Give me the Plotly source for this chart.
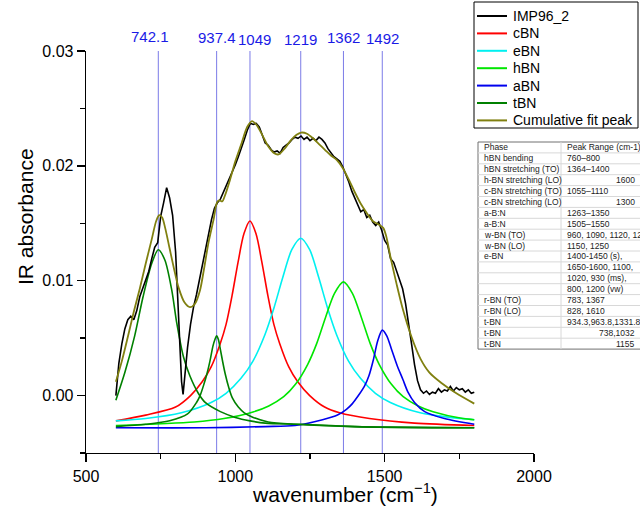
import plotly.graph_objects as go

# ---------------- data ----------------
imp_x = [600, 610, 620, 630, 640, 650, 660, 670, 680, 690, 700, 710, 720, 730, 740, 750, 760, 770, 780, 790,
         800, 810, 820, 825, 830, 840, 850, 860, 870, 880, 890, 900, 910, 920, 930, 940, 950, 960, 970, 980,
         990, 1000, 1010, 1020, 1030, 1040, 1050, 1060, 1070, 1080, 1090, 1100, 1110, 1120, 1130, 1140, 1150,
         1160, 1170, 1180, 1190, 1200, 1210, 1220, 1230, 1240, 1250, 1260, 1270, 1280, 1290, 1300, 1310, 1320,
         1330, 1340, 1350, 1360, 1370, 1380, 1390, 1400, 1410, 1420, 1430, 1440, 1450, 1460, 1470, 1480, 1490,
         1500, 1510, 1520, 1530, 1540, 1550, 1560, 1570, 1580, 1590, 1600, 1610, 1620, 1630, 1640, 1650, 1660,
         1670, 1680, 1690, 1700, 1710, 1720, 1730, 1740, 1750, 1760, 1770, 1780, 1790, 1800]
imp_y = [0.0000, 0.0028, 0.0045, 0.0058, 0.0066, 0.0069, 0.0066, 0.0074, 0.0086, 0.0094, 0.0100, 0.0108,
         0.0119, 0.0129, 0.0133, 0.0156, 0.0168, 0.0181, 0.0172, 0.0157, 0.0125, 0.0072, 0.0012, 0.0001,
         0.0016, 0.0042, 0.0062, 0.0077, 0.0088, 0.0101, 0.0116, 0.0129, 0.0142, 0.0153, 0.0163, 0.0168,
         0.0171, 0.0177, 0.0182, 0.0189, 0.0195, 0.0201, 0.0208, 0.0215, 0.0223, 0.0231, 0.0237, 0.0236,
         0.0237, 0.0234, 0.0226, 0.0220, 0.0218, 0.0214, 0.0212, 0.0213, 0.0211, 0.0216, 0.0218, 0.0220,
         0.0223, 0.0225, 0.0224, 0.0226, 0.0223, 0.0225, 0.0222, 0.0224, 0.0222, 0.0225, 0.0223, 0.0220,
         0.0215, 0.0211, 0.0208, 0.0206, 0.0204, 0.0199, 0.0193, 0.0186, 0.0178, 0.0172, 0.0167, 0.0160,
         0.0162, 0.0155, 0.0157, 0.0151, 0.0148, 0.0151, 0.0144, 0.0135, 0.0131, 0.0119, 0.0116, 0.0108,
         0.0101, 0.0093, 0.0080, 0.0064, 0.0045, 0.0027, 0.0013, 0.0005, 0.0002, 0.0004, 0.0001, 0.0003,
         0.0002, 0.0006, 0.0003, 0.0005, 0.0004, 0.0008, 0.0004, 0.0007, 0.0005, 0.0006, 0.0003, 0.0005,
         0.0002, 0.0003]

cbn_x = [600, 700, 800, 850, 889, 919, 949, 969, 989, 1009, 1029, 1049, 1069, 1089, 1109, 1129, 1149,
         1179, 1209, 1249, 1299, 1349, 1449, 1600, 1800]
cbn_y = [-0.0022, -0.0017, -0.0010, 0.0000, 0.0012, 0.0025, 0.0045, 0.0062, 0.0087, 0.0116, 0.0141,
         0.0152, 0.0141, 0.0116, 0.0087, 0.0062, 0.0045, 0.0025, 0.0012, 0.0000, -0.0010, -0.0015,
         -0.0020, -0.0024, -0.0026]

ebn_x = [600, 700, 819, 919, 969, 1019, 1059, 1099, 1129, 1159, 1189, 1219, 1249, 1279, 1309, 1339,
         1379, 1419, 1469, 1519, 1619, 1719, 1800]
ebn_y = [-0.0022, -0.0020, -0.0015, -0.0006, 0.0002, 0.0015, 0.0030, 0.0053, 0.0076, 0.0103, 0.0127,
         0.0137, 0.0127, 0.0103, 0.0076, 0.0053, 0.0030, 0.0015, 0.0002, -0.0006, -0.0015, -0.0019,
         -0.0021]

hbn_x = [600, 862, 962, 1062, 1112, 1162, 1202, 1242, 1272, 1302, 1332, 1362, 1392, 1422, 1452, 1482,
         1522, 1562, 1612, 1662, 1762, 1800]
hbn_y = [-0.0026, -0.0023, -0.0020, -0.0014, -0.0009, -0.0001, 0.0010, 0.0027, 0.0045, 0.0068, 0.0089,
         0.0099, 0.0089, 0.0068, 0.0045, 0.0027, 0.0010, -0.0001, -0.0009, -0.0014, -0.0020, -0.0021]

abn_x = [600, 900, 1100, 1200, 1292, 1342, 1372, 1392, 1412, 1432, 1447, 1462, 1477, 1492, 1507, 1522,
         1542, 1561, 1578, 1600, 1634, 1700, 1800]
abn_y = [-0.0028, -0.0028, -0.0027, -0.0026, -0.0021, -0.0017, -0.0012, -0.0007, 0.0000, 0.0008, 0.0017,
         0.0031, 0.0048, 0.0057, 0.0052, 0.0041, 0.0026, 0.0014, 0.0003, -0.0006, -0.0014, -0.0020, -0.0025]

tbn1_x = [600, 630, 663, 691, 720, 742, 764, 787, 804, 826, 848, 876, 899, 950, 1000, 1049, 1100, 1219,
          1400, 1800]
tbn1_y = [-0.0004, 0.0020, 0.0052, 0.0086, 0.0115, 0.0127, 0.0118, 0.0092, 0.0063, 0.0034, 0.0017, 0.0002,
          -0.0006, -0.0014, -0.0019, -0.0022, -0.0024, -0.0025, -0.0027, -0.0028]

tbn2_x = [600, 700, 780, 840, 870, 882, 895, 905, 915, 925, 932, 937.4, 943, 950, 958, 966, 978, 990,
          1010, 1030, 1060, 1110, 1200, 1400, 1800]
tbn2_y = [-0.0027, -0.0025, -0.0022, -0.0016, -0.0006, 0.0000, 0.0010, 0.0019, 0.0030, 0.0043, 0.0049,
          0.0052, 0.0049, 0.0040, 0.0029, 0.0019, 0.0007, -0.0002, -0.0010, -0.0015, -0.0019, -0.0023,
          -0.0025, -0.0027, -0.0028]

cum_x = [600, 620, 640, 660, 680, 700, 720, 735, 745, 755, 765, 780, 795, 810, 830, 848, 865, 882, 895,
         910, 927, 940, 948, 956, 965, 980, 1000, 1020, 1040, 1056, 1070, 1090, 1110, 1130, 1145, 1165,
         1185, 1205, 1220, 1240, 1260, 1280, 1300, 1320, 1340, 1360, 1380, 1400, 1420, 1440, 1460, 1480,
         1495, 1505, 1520, 1540, 1560, 1590, 1620, 1650, 1690, 1740, 1800]
cum_y = [0.0012, 0.0030, 0.0051, 0.0073, 0.0093, 0.0115, 0.0136, 0.0152, 0.0157, 0.0155, 0.0146, 0.0128,
         0.0110, 0.0094, 0.0081, 0.0077, 0.0080, 0.0092, 0.0110, 0.0133, 0.0153, 0.0169, 0.0170, 0.0169,
         0.0174, 0.0186, 0.0204, 0.0219, 0.0234, 0.0239, 0.0236, 0.0227, 0.0217, 0.0211, 0.0210, 0.0215,
         0.0222, 0.0227, 0.0229, 0.0228, 0.0224, 0.0219, 0.0214, 0.0209, 0.0205, 0.0198, 0.0188, 0.0177,
         0.0167, 0.0159, 0.0152, 0.0149, 0.0146, 0.0139, 0.0120, 0.0097, 0.0076, 0.0051, 0.0032, 0.0020,
         0.0011, 0.0002, -0.0007]

peak_pos = [742.1, 937.4, 1049, 1219, 1362, 1492]
peak_labels = ["742.1", "937.4", "1049", "1219", "1362", "1492"]

legend_names = ["IMP96_2", "cBN", "eBN", "hBN", "aBN", "tBN", "Cumulative fit peak"]
legend_colors = ["#000000", "#ff0000", "#00f0f0", "#00e600", "#0000ee", "#008000", "#808010"]

table_phase = ["Phase", "hBN bending", "hBN stretching (TO)", "h-BN stretching (LO)",
               "c-BN stretching (TO)", "c-BN stretching (LO)", "a-B:N", "a-B:N", "w-BN (TO)",
               "w-BN (LO)", "e-BN", "", "", "", "r-BN (TO)", "r-BN (LO)", "t-BN", "t-BN", "t-BN"]
table_range = ["Peak Range (cm-1)", "760–800", "1364–1400", "1600", "1055–1110", "1300",
               "1263–1350", "1505–1550", "960, 1090, 1120, 1250", "1150, 1250", "1400-1450 (s),",
               "1650-1600, 1100,", "1020, 930 (ms),", "800, 1200 (vw)", "783, 1367", "828, 1610",
               "934.3,963.8,1331.8", "738,1032", "1155"]
table_right = [False, False, False, True, False, True, False, False, False, False, False,
               False, False, False, False, False, False, True, True]

# ---------------- layout helpers ----------------
W, H = 640, 519
PL, PR, PT, PB = 86, 534, 51, 453
FONT = "Liberation Sans, Arial, sans-serif"


def fx(px):
    return (px - PL) / (PR - PL)


def fy(py):
    return (PB - py) / (PB - PT)


fig = go.Figure()

lw = 1.6
sp = dict(shape="spline", smoothing=0.8)
series = [
    (cbn_x, cbn_y, legend_colors[1], lw, True),
    (ebn_x, ebn_y, legend_colors[2], lw, True),
    (hbn_x, hbn_y, legend_colors[3], lw, True),
    (abn_x, abn_y, legend_colors[4], lw, True),
    (tbn1_x, tbn1_y, legend_colors[5], lw, True),
    (tbn2_x, tbn2_y, legend_colors[5], lw, True),
    (imp_x, imp_y, legend_colors[0], 1.6, False),
    (cum_x, cum_y, legend_colors[6], 1.8, True),
]
names = ["cBN", "eBN", "hBN", "aBN", "tBN", "tBN", "IMP96_2", "Cumulative fit peak"]
for (xs, ys, col, w, smooth), nm in zip(series, names):
    line = dict(color=col, width=w)
    if smooth:
        line.update(sp)
    fig.add_trace(go.Scatter(x=xs, y=ys, mode="lines", name=nm, line=line, showlegend=False))

shapes = []
annotations = []

# vertical peak lines + labels
label_xshift = [-8, 0, 5, 0, 0, 0]
label_py = [36.7, 37.3, 40, 39.3, 37.3, 38.3]
for p, lab, xs, lpy in zip(peak_pos, peak_labels, label_xshift, label_py):
    shapes.append(dict(type="line", xref="x", yref="paper", x0=p, x1=p, y0=0, y1=1,
                       line=dict(color="rgba(90,90,225,0.8)", width=1), layer="below"))
    annotations.append(dict(x=p, xref="x", y=fy(lpy), yref="paper", text=lab, showarrow=False,
                            xanchor="center", yanchor="middle", xshift=xs,
                            font=dict(family=FONT, size=15, color="#1a1ae6")))

# axis titles
annotations.append(dict(x=fx(25), y=fy(217), xref="paper", yref="paper", text="IR absorbance",
                        textangle=-90, showarrow=False, xanchor="center", yanchor="middle",
                        font=dict(family=FONT, size=21, color="black")))
annotations.append(dict(x=fx(345), y=fy(493), xref="paper", yref="paper",
                        text="wavenumber (cm<sup>\u22121</sup>)", showarrow=False,
                        xanchor="center", yanchor="middle",
                        font=dict(family=FONT, size=21, color="black")))

# manual legend box
lg_left, lg_right, lg_top, lg_bot = 474, 638, 2, 128
lg_row0, lg_step = 16, 17.4
shapes.append(dict(type="rect", xref="paper", yref="paper", x0=fx(lg_left), x1=fx(lg_right),
                   y0=fy(lg_bot), y1=fy(lg_top), line=dict(color="black", width=1),
                   fillcolor="white", layer="above"))
for i, (nm, col) in enumerate(zip(legend_names, legend_colors)):
    yc = fy(lg_row0 + i * lg_step)
    shapes.append(dict(type="line", xref="paper", yref="paper", x0=fx(477), x1=fx(507),
                       y0=yc, y1=yc, line=dict(color=col, width=2), layer="above"))
    annotations.append(dict(x=fx(511), y=yc, xref="paper", yref="paper", text=nm, showarrow=False,
                            xanchor="left", yanchor="middle",
                            font=dict(family=FONT, size=14, color="black")))

# table
t_left, t_div, t_right = 478, 561, 641
t_top, row_h = 142, 10.9
n_rows = len(table_phase)
t_bot = t_top + n_rows * row_h
shapes.append(dict(type="rect", xref="paper", yref="paper", x0=fx(t_left), x1=fx(t_right),
                   y0=fy(t_bot), y1=fy(t_top), line=dict(color="#707070", width=1),
                   fillcolor="white", layer="above"))
for i in range(1, n_rows):
    yy = fy(t_top + i * row_h)
    shapes.append(dict(type="line", xref="paper", yref="paper", x0=fx(t_left), x1=fx(t_right),
                       y0=yy, y1=yy, line=dict(color="#d8d8d8", width=1), layer="above"))
shapes.append(dict(type="line", xref="paper", yref="paper", x0=fx(t_div), x1=fx(t_div),
                   y0=fy(t_bot), y1=fy(t_top), line=dict(color="#d8d8d8", width=1), layer="above"))
for i, (a, b, r) in enumerate(zip(table_phase, table_range, table_right)):
    yc = fy(t_top + (i + 0.5) * row_h)
    if a:
        annotations.append(dict(x=fx(482), y=yc, xref="paper", yref="paper", text=a, showarrow=False,
                                xanchor="left", yanchor="middle",
                                font=dict(family=FONT, size=8.5, color="#222222")))
    if r:
        annotations.append(dict(x=fx(637), y=yc, xref="paper", yref="paper", text=b, showarrow=False,
                                xanchor="right", yanchor="middle",
                                font=dict(family=FONT, size=8.5, color="#222222")))
    else:
        annotations.append(dict(x=fx(565), y=yc, xref="paper", yref="paper", text=b, showarrow=False,
                                xanchor="left", yanchor="middle",
                                font=dict(family=FONT, size=8.5, color="#222222")))

fig.update_layout(
    width=W, height=H,
    margin=dict(l=PL, r=W - PR, t=PT, b=H - PB, pad=0, autoexpand=False),
    paper_bgcolor="white", plot_bgcolor="white",
    font=dict(family=FONT, size=16, color="black"),
    showlegend=False,
    hovermode=False,
    shapes=shapes,
    annotations=annotations,
    xaxis=dict(range=[500, 2000], showline=True, linecolor="black", linewidth=1.3,
               ticks="outside", ticklen=8, tickwidth=1.3, tickcolor="black", dtick=500, tick0=500,
               minor=dict(dtick=250, ticks="outside", ticklen=5, tickwidth=1.3, tickcolor="black"),
               showgrid=False, zeroline=False, tickfont=dict(size=16)),
    yaxis=dict(range=[-0.005, 0.03], showline=True, linecolor="black", linewidth=1.3,
               ticks="outside", ticklen=8, tickwidth=1.3, tickcolor="black", dtick=0.01, tick0=0,
               tickformat=".2f",
               minor=dict(dtick=0.005, ticks="outside", ticklen=5, tickwidth=1.3, tickcolor="black"),
               showgrid=False, zeroline=False, tickfont=dict(size=16)),
)

fig.write_html(
    "out.html",
    config={"displayModeBar": False, "staticPlot": True},
    post_script="document.body.style.margin='0';document.body.style.overflow='hidden';"
)
